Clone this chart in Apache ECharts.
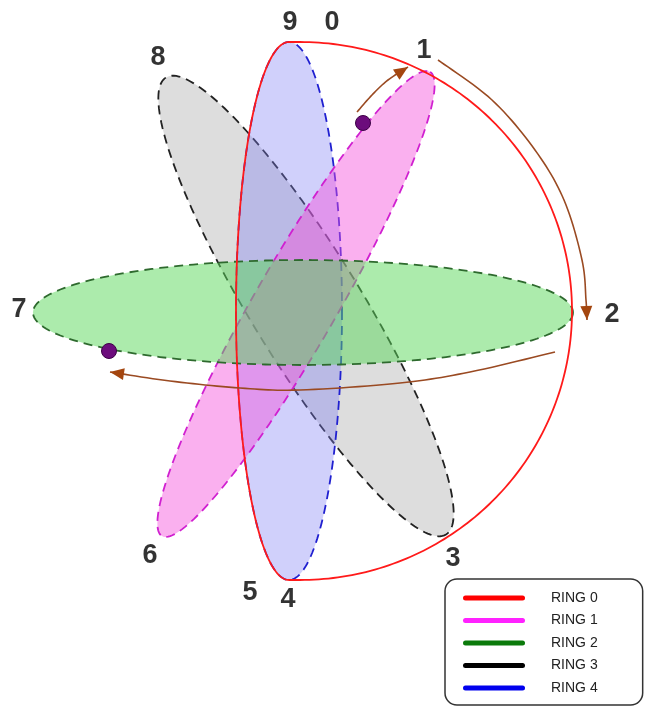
<!DOCTYPE html>
<html>
<head>
<meta charset="utf-8">
<script src="https://cdn.jsdelivr.net/npm/echarts@6/dist/echarts.min.js"></script>
<style>
  html, body { margin: 0; padding: 0; background: #fff; }
  #chart { width: 645px; height: 707px; }
</style>
</head>
<body>
<div id="chart"></div>
<script>
// ellipse rings: [cx, cy, rx, ry, tilt in degrees]
var ring1Ellipse = [296, 304, 268, 41, -60];
var ring2Ellipse = [303, 312.5, 270, 52.5, 0];
var ring3Ellipse = [306, 306, 268, 55, 58.5];
var ring4Ellipse = [289, 311, 53, 269, 0];

// ring 0 is drawn as two halves: [cx, cy, rx, ry]
var ring0Outer = [300, 311, 272, 269];
var ring0Inner = [289, 311, 53, 269];

// arrows along the rings
var arrowA = [[357, 112], [372, 95], [388, 80], [408, 67]];
var arrowB = [[438, 60], [492, 100], [535, 150], [564, 200], [582, 260], [586, 300], [587, 320]];
var arrowC = [[555, 352], [470, 372], [400, 383], [300, 390], [240, 388], [170, 381], [110, 372]];

// position labels
var nodeNames = ['9', '0', '1', '2', '3', '4', '5', '6', '7', '8'];
var nodeX = [290, 332, 424, 612, 453, 288, 250, 150, 19, 158];
var nodeY = [23, 23, 51, 315, 559, 600, 593, 556, 310, 58];

// markers on the rings
var dots = [[363, 123], [109, 351]];

var ringNames = ['RING 0', 'RING 1', 'RING 2', 'RING 3', 'RING 4'];

var chart = echarts.init(document.getElementById('chart'));

// catmull-rom through pixel points
function spline(pts) {
    var out = [], n = pts.length;
    for (var i = 0; i < n - 1; i++) {
        var p0 = pts[i - 1] || pts[i];
        var p1 = pts[i], p2 = pts[i + 1];
        var p3 = pts[i + 2] || pts[i + 1];
        for (var s = 0; s < 12; s++) {
            var t = s / 12, t2 = t * t, t3 = t2 * t;
            out.push([0, 1].map(function(k) {
                return 0.5 * (2 * p1[k] + (-p0[k] + p2[k]) * t +
                    (2 * p0[k] - 5 * p1[k] + 4 * p2[k] - p3[k]) * t2 +
                    (-p0[k] + 3 * p1[k] - 3 * p2[k] + p3[k]) * t3);
            }));
        }
    }
    out.push(pts[n - 1]);
    return out;
}

// points of an ellipse between two angles (degrees), in data space
function ellipsePoints(cx, cy, rx, ry, tilt, from, to, api) {
    var a = tilt * Math.PI / 180, pts = [];
    for (var i = 0; i <= 180; i++) {
        var t = (from + (to - from) * i / 180) * Math.PI / 180;
        var x = cx + rx * Math.cos(t) * Math.cos(a) - ry * Math.sin(t) * Math.sin(a);
        var y = cy + rx * Math.cos(t) * Math.sin(a) + ry * Math.sin(t) * Math.cos(a);
        pts.push(api.coord([x, y]));
    }
    return pts;
}

function ellipseSeries(name, ellipse, fill, stroke, z) {
    return {
        type: 'custom',
        name: name,
        z: z,
        silent: true,
        data: [ellipse],
        renderItem: function(params, api) {
            var pts = ellipsePoints(api.value(0), api.value(1), api.value(2), api.value(3),
                api.value(4), 0, 360, api);
            return {
                type: 'polygon',
                shape: { points: pts },
                style: { fill: fill, stroke: stroke, lineWidth: 1.8, lineDash: [9, 6] }
            };
        }
    };
}

function arrowSeries(path) {
    return {
        type: 'custom',
        silent: true,
        z: 6,
        data: path,
        renderItem: function(params, api) {
            if (params.dataIndex > 0) return null;
            var px = path.map(function(p) { return api.coord(p); });
            var p = px[px.length - 1], q = px[px.length - 2];
            var dx = p[0] - q[0], dy = p[1] - q[1];
            var len = Math.sqrt(dx * dx + dy * dy);
            dx /= len; dy /= len;
            var bx = p[0] - dx * 14, by = p[1] - dy * 14;
            return {
                type: 'group',
                children: [{
                    type: 'polyline',
                    shape: { points: spline(px) },
                    style: { stroke: '#9a4a22', lineWidth: 1.6, fill: null }
                }, {
                    type: 'polygon',
                    shape: { points: [p, [bx - dy * 6, by + dx * 6], [bx + dy * 6, by - dx * 6]] },
                    style: { fill: '#a4460f' }
                }]
            };
        }
    };
}

chart.setOption({
    animation: false,
    grid: { left: 0, right: 0, top: 0, bottom: 0 },
    xAxis: { type: 'value', min: 0, max: 645, show: false },
    yAxis: { type: 'value', min: 0, max: 707, inverse: true, show: false },
    legend: {
        orient: 'vertical',
        left: 445,
        top: 579,
        selectedMode: false,
        padding: [11, 45, 9, 18],
        itemWidth: 62,
        itemHeight: 5,
        itemGap: 6.5,
        borderColor: '#333',
        borderWidth: 1.5,
        borderRadius: 12,
        icon: 'path://M2.5,0H59.5A2.5,2.5,0,0,1,59.5,5H2.5A2.5,2.5,0,0,1,2.5,0Z',
        textStyle: { fontSize: 14, fontFamily: 'Liberation Sans', color: '#222', lineHeight: 16, padding: [0, 0, 0, 21] },
        data: [
            { name: ringNames[0], itemStyle: { color: '#ff0000', borderWidth: 0 } },
            { name: ringNames[1], itemStyle: { color: '#ff22ff', borderWidth: 0 } },
            { name: ringNames[2], itemStyle: { color: '#0b7a0b', borderWidth: 0 } },
            { name: ringNames[3], itemStyle: { color: '#000000', borderWidth: 0 } },
            { name: ringNames[4], itemStyle: { color: '#0000ee', borderWidth: 0 } }
        ]
    },
    series: [
        ellipseSeries(ringNames[3], ring3Ellipse, 'rgba(175,175,175,0.42)', '#222', 1),
        ellipseSeries(ringNames[4], ring4Ellipse, 'rgba(125,125,245,0.36)', '#2020d0', 2),
        ellipseSeries(ringNames[1], ring1Ellipse, 'rgba(245,80,220,0.45)', '#d020d0', 3),
        ellipseSeries(ringNames[2], ring2Ellipse, 'rgba(90,215,90,0.5)', '#2e6a2e', 4),
        {
            type: 'custom',
            name: ringNames[0],
            silent: true,
            z: 5,
            data: [ring0Outer.concat(ring0Inner)],
            renderItem: function(params, api) {
                var outer = ellipsePoints(api.value(0), api.value(1), api.value(2), api.value(3), 0, -90, 90, api);
                var inner = ellipsePoints(api.value(4), api.value(5), api.value(6), api.value(7), 0, 90, 270, api);
                return {
                    type: 'polyline',
                    shape: { points: outer.concat(inner, [outer[0]]) },
                    style: { stroke: '#ff1a1a', lineWidth: 1.8, fill: null }
                };
            }
        },
        arrowSeries(arrowA),
        arrowSeries(arrowB),
        arrowSeries(arrowC),
        {
            type: 'scatter',
            data: dots,
            symbolSize: 15,
            silent: true,
            z: 8,
            itemStyle: { color: '#6c0c7c', borderColor: '#3c0046', borderWidth: 1, opacity: 1 }
        },
        {
            type: 'scatter',
            silent: true,
            z: 9,
            symbolSize: 1,
            itemStyle: { color: 'transparent' },
            data: nodeNames.map(function(n, i) {
                return { name: n, value: [nodeX[i], nodeY[i]] };
            }),
            label: {
                show: true,
                position: 'inside',
                formatter: '{b}',
                fontSize: 27,
                fontWeight: 'bold',
                fontFamily: 'Liberation Sans',
                color: '#000',
                textBorderWidth: 0
            }
        }
    ]
});
</script>
</body>
</html>
